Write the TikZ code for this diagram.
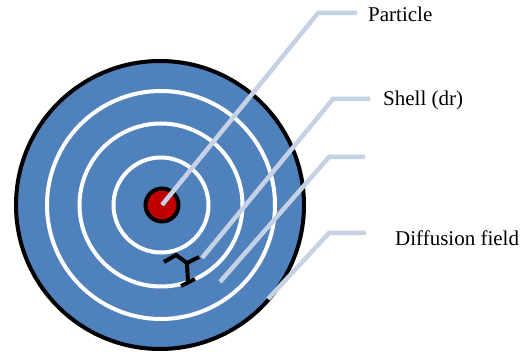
\documentclass[tikz,border=0pt]{standalone}
\usepackage{fontspec}
\setmainfont{Liberation Serif}
\definecolor{fieldblue}{HTML}{4F81BD}
\definecolor{partred}{HTML}{C00000}
\definecolor{leadercol}{HTML}{C6D1E4}
\begin{document}
\begin{tikzpicture}[x=1pt,y=-1pt,
  ring/.style={draw=white,line width=4pt},
  leader/.style={draw=leadercol,line width=4.5pt},
  lbl/.style={anchor=west,inner sep=0pt,font=\fontsize{21}{25}\selectfont},
  drmark/.style={draw=black,line width=4pt,line join=miter}]
\useasboundingbox (0,0) rectangle (520,358);
% diffusion field
\node[circle,draw=black,line width=4pt,fill=fieldblue,minimum size=288pt,inner sep=0pt] (field) at (160,205) {};
\node[circle,ring,minimum size=95pt,inner sep=0pt] (r1) at (161,205) {};
\node[circle,ring,minimum size=163pt,inner sep=0pt] (r2) at (161,205) {};
\node[circle,ring,minimum size=228pt,inner sep=0pt] (r3) at (161,205) {};
% particle
\node[circle,draw=black,line width=4pt,fill=partred,minimum size=33pt,inner sep=0pt] (particle) at (162,205) {};
% dr marker
\draw[drmark] (164,262) -- (176,255) -- (187,263) -- (199,257);
\draw[drmark] (187,263) -- (188,282);
\draw[drmark] (181,286) -- (195,279);
% labels
\node[lbl] (tpart) at (368,14) {Particle};
\node[lbl] (tshell) at (383,100) {Shell (dr)};
\node[lbl] (tdiff) at (395,238) {Diffusion field};
% leader coordinates
\coordinate (e1) at (318,13);
\coordinate (h1) at (357,13);
\coordinate (s0) at (202,258);
\coordinate (e2) at (333,99);
\coordinate (h2) at (370,99);
\coordinate (d0) at (220,282);
\coordinate (e3) at (329,157);
\coordinate (h3) at (365,157);
\coordinate (f0) at (268,299);
\coordinate (e4) at (329,233);
\coordinate (h4) at (366,233);
% leaders
\draw[leader] (particle.center) -- (e1) -- (h1);
\draw[leader] (s0) -- (e2) -- (h2);
\draw[leader] (d0) -- (e3) -- (h3);
\draw[leader] (f0) -- (e4) -- (h4);
\end{tikzpicture}
\end{document}
